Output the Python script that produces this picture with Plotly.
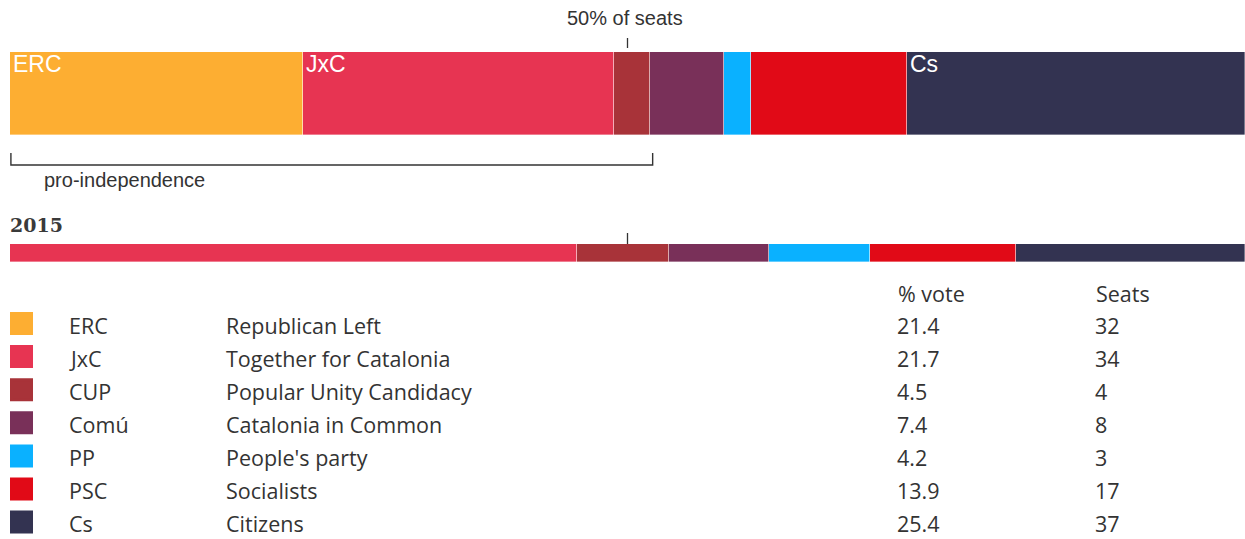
import plotly.graph_objects as go

# ---- data ----
parties = ["ERC", "JxC", "CUP", "Comú", "PP", "PSC", "Cs"]
full_names = ["Republican Left", "Together for Catalonia", "Popular Unity Candidacy",
              "Catalonia in Common", "People's party", "Socialists", "Citizens"]
vote_pct = ["21.4", "21.7", "4.5", "7.4", "4.2", "13.9", "25.4"]
seats_2017 = [32, 34, 4, 8, 3, 17, 37]
seats_2015 = [0, 62, 10, 11, 11, 16, 25]
colors = ["#FDAE32", "#E73452", "#A83339", "#793059", "#0AB1FF", "#E10A17", "#333351"]
bar_labels = ["ERC", "JxC", "", "", "", "", "Cs"]
pro_independence = ["ERC", "JxC", "CUP"]

W, H = 1245, 539
TOTAL = sum(seats_2017)
X0 = 10  # left pixel of bars
TXT = "#333333"
SANS = "Liberation Sans, Arial, sans-serif"

fig = go.Figure()

Y17, H17 = 93.5, 83
Y15, H15 = 253, 18
for i, p in enumerate(parties):
    fig.add_trace(go.Bar(
        orientation="h",
        x=[seats_2017[i], seats_2015[i]],
        y=[Y17, Y15],
        width=[H17, H15],
        marker=dict(color=colors[i], line=dict(color="rgba(255,255,255,0.6)", width=0.6)),
        hoverinfo="skip",
        showlegend=False,
    ))

# labels in 2017 bar
cum = 0
for i, p in enumerate(parties):
    if bar_labels[i]:
        fig.add_annotation(x=cum, y=Y17 - H17 / 2, xref="x", yref="y", text=bar_labels[i],
                           showarrow=False, xanchor="left", yanchor="top", xshift=1, yshift=3,
                           font=dict(family=SANS, size=23, color="white"))
    cum += seats_2017[i]

half = TOTAL / 2
# 50% ticks
fig.add_shape(type="line", xref="x", yref="y", x0=half, x1=half, y0=38, y1=48,
              line=dict(color=TXT, width=1.3))
fig.add_shape(type="line", xref="x", yref="y", x0=half, x1=half, y0=233, y1=244,
              line=dict(color=TXT, width=1.3))
fig.add_annotation(x=625 / W, y=18, xref="paper", yref="y", text="50% of seats", showarrow=False,
                   xanchor="center", yanchor="middle",
                   font=dict(family=SANS, size=20, color=TXT))

# pro-independence bracket
pro_end = sum(seats_2017[parties.index(p)] for p in pro_independence)
fig.add_shape(type="path", xref="x", yref="y",
              path=f"M 0.1,153 L 0.1,165 L {pro_end + 0.25},165 L {pro_end + 0.25},153",
              line=dict(color=TXT, width=1.4))
fig.add_annotation(x=42 / W, y=180, xref="paper", yref="y", text="pro-independence", showarrow=False,
                   xanchor="left", yanchor="middle",
                   font=dict(family=SANS, size=20, color=TXT))

# 2015 label
fig.add_annotation(x=8 / W, y=225, xref="paper", yref="y", text="<b>2015</b>", showarrow=False,
                   xanchor="left", yanchor="middle",
                   font=dict(family="DejaVu Serif, serif", size=19, color="#3a3a3a"))

# table
LEG_FONT = "Open Sans, Noto Sans, sans-serif"
LS = 21.5
row0, dy = 325, 33.1
fig.add_annotation(x=897 / W, y=293, xref="paper", yref="y", text="% vote", showarrow=False,
                   xanchor="left", yanchor="middle", borderpad=0,
                   font=dict(family=LEG_FONT, size=LS, color=TXT))
fig.add_annotation(x=1095 / W, y=293, xref="paper", yref="y", text="Seats", showarrow=False,
                   xanchor="left", yanchor="middle", borderpad=0,
                   font=dict(family=LEG_FONT, size=LS, color=TXT))
sq_y = []
for i, p in enumerate(parties):
    yy = row0 + i * dy
    sq_y.append(yy - 1.5)
    for xp, t in [(68, p), (225, full_names[i]), (896, vote_pct[i]), (1094, str(seats_2017[i]))]:
        fig.add_annotation(x=xp / W, y=yy, xref="paper", yref="y", text=t, showarrow=False,
                           xanchor="left", yanchor="middle", borderpad=0,
                           font=dict(family=LEG_FONT, size=LS, color=TXT))

fig.add_trace(go.Scatter(
    x=[(21.5 - X0) / (W - X0) * TOTAL] * len(parties),
    y=sq_y, mode="markers",
    marker=dict(symbol="square", size=20, color=colors, line=dict(color=colors, width=3)),
    hoverinfo="skip", showlegend=False, cliponaxis=False,
))

fig.update_layout(
    width=W, height=H, margin=dict(l=0, r=0, t=0, b=0),
    paper_bgcolor="white", plot_bgcolor="white",
    barmode="stack", bargap=0,
    xaxis=dict(range=[0, TOTAL], domain=[X0 / W, 1], visible=False, fixedrange=True),
    yaxis=dict(range=[H, 0], domain=[0, 1], visible=False, fixedrange=True),
)

fig.write_html("out.html")
